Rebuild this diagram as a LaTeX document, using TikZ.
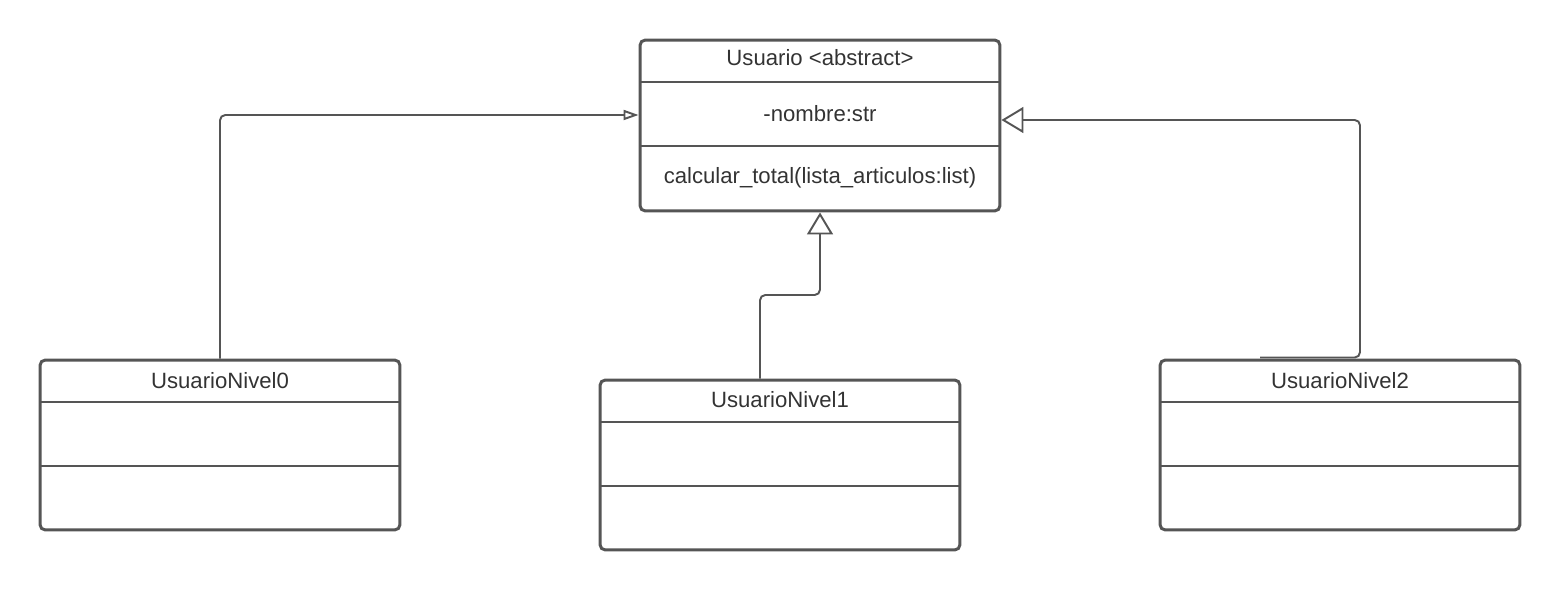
\documentclass[tikz,border=0pt]{standalone}
\usepackage{fontspec}
\setmainfont{Liberation Sans}
\usetikzlibrary{arrows.meta}
\definecolor{umlline}{RGB}{85,85,85}
\definecolor{umltext}{RGB}{51,51,51}

\begin{document}
\begin{tikzpicture}[x=0.02cm, y=-0.02cm,
		umlbox/.style={draw=umlline, line width=1.7pt, rounded corners=3pt, minimum width=7.2cm, minimum height=3.4cm, inner sep=0pt},
		part/.style={draw=umlline, line width=1.7pt},
		lbl/.style={text=umltext, font=\fontsize{12.6}{15}\selectfont, inner sep=0pt},
		gen/.style={draw=umlline, line width=1.1pt, rounded corners=3pt, -{Triangle[open, fill=white, length=0.44cm, width=0.52cm]}},
		gensmall/.style={gen, -{Triangle[open, fill=white, length=0.3cm, width=0.2cm]}}
			]
	\useasboundingbox (0,0) rectangle (1560,591);

	\node[umlbox, minimum height=3.42cm] (usr) at (820,125.5) {};
	\draw[part] (640,82) -- (1000,82);
	\draw[part] (640,146) -- (1000,146);
	\node[lbl] (usr-name) at (820,58) {Usuario <abstract>};
	\node[lbl] (usr-attr) at (820,114) {-nombre:str};
	\node[lbl] (usr-ops) at (820,178) {calcular\_total(lista\_articulos:list)};

	\node[umlbox] (n0) at (220,445) {};
	\draw[part] (40,402) -- (400,402);
	\draw[part] (40,466) -- (400,466);
	\node[lbl] (n0-name) at (220,381) {UsuarioNivel0};

	\node[umlbox] (n1) at (780,465) {};
	\draw[part] (600,422) -- (960,422);
	\draw[part] (600,486) -- (960,486);
	\node[lbl] (n1-name) at (780,400) {UsuarioNivel1};

	\node[umlbox] (n2) at (1340,445) {};
	\draw[part] (1160,402) -- (1520,402);
	\draw[part] (1160,466) -- (1520,466);
	\node[lbl] (n2-name) at (1340,381) {UsuarioNivel2};

	\coordinate (bend1) at (790,295);
	\coordinate (bend2) at (1360,120);
	\draw[gensmall] (n0.north) |- (usr.west |- 0,115);
	\draw[gen] ([xshift=-0.4cm]n1.north) |- (bend1) -| (usr.south);
	\draw[gen] ([xshift=-1.6cm, yshift=0.02cm]n2.north) -| (bend2) -- (usr.east |- bend2);
\end{tikzpicture}
\end{document}
